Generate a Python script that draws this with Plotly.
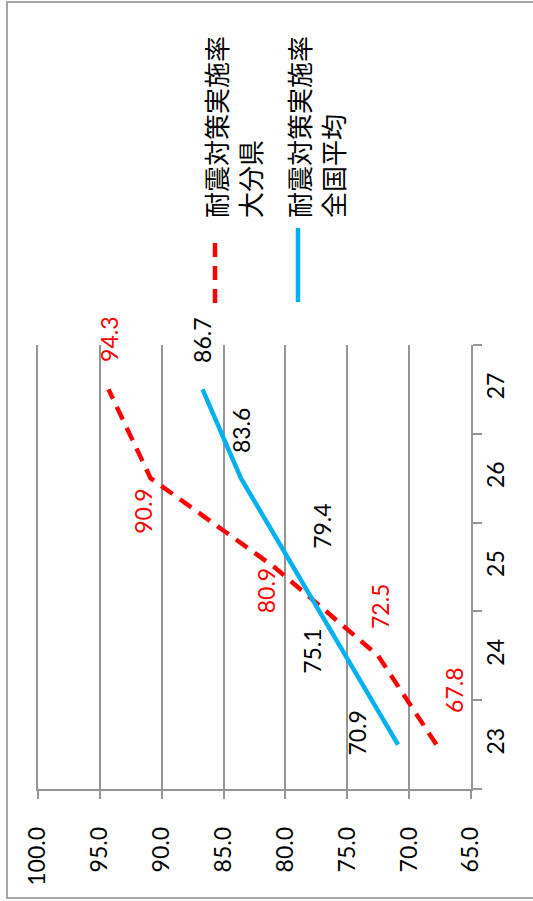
import plotly.graph_objects as go

categories = ["23", "24", "25", "26", "27"]
oita_values = [67.8, 72.5, 80.9, 90.9, 94.3]
national_values = [70.9, 75.1, 79.4, 83.6, 86.7]
series_names = ["耐震対策実施率<br>大分県", "耐震対策実施率<br>全国平均"]

RED = "#FF0000"
BLUE = "#00B0F0"
GRID = "#959595"
NUM_FONT = "Lato"
CJK_FONT = "Noto Sans CJK JP"

fig = go.Figure()
fig.add_trace(go.Scatter(x=oita_values, y=categories, mode="lines",
                         line=dict(color=RED, width=4.5, dash="14px,9px"),
                         showlegend=False, hoverinfo="skip"))
fig.add_trace(go.Scatter(x=national_values, y=categories, mode="lines",
                         line=dict(color=BLUE, width=4.5),
                         showlegend=False, hoverinfo="skip"))

# data label pixel offsets (x, y)
red_off = [(17, 54), (2, 49), (-8, -24), (-7, -33), (1, 50)]
blue_off = [(-41, 11), (-34, 4), (29, 41), (0, 48), (0, 49)]

ann = []
for i, (v, (dx, dy)) in enumerate(zip(oita_values, red_off)):
    ann.append(dict(x=v, y=i, xref="x", yref="y", text=f"{v:.1f}", showarrow=False,
                    textangle=-90, xshift=dx, yshift=dy,
                    font=dict(family=NUM_FONT, size=23, color=RED)))
for i, (v, (dx, dy)) in enumerate(zip(national_values, blue_off)):
    ann.append(dict(x=v, y=i, xref="x", yref="y", text=f"{v:.1f}", showarrow=False,
                    textangle=-90, xshift=dx, yshift=dy,
                    font=dict(family=NUM_FONT, size=23, color="black")))

L, R, T, B = 38, 62, 345, 112
W, H = 533, 901
PW, PH = W - L - R, H - T - B


def px(x):
    return (x - L) / PW


def py(y):
    return (H - B - y) / PH


# legend text
ann.append(dict(x=px(232), y=py(220), xref="paper", yref="paper", text=series_names[0],
                showarrow=False, textangle=-90, align="left", xanchor="center", yanchor="bottom",
                font=dict(family=CJK_FONT, size=26, color="black")))
ann.append(dict(x=px(315), y=py(220), xref="paper", yref="paper", text=series_names[1],
                showarrow=False, textangle=-90, align="left", xanchor="center", yanchor="bottom",
                font=dict(family=CJK_FONT, size=26, color="black")))

shapes = [
    dict(type="line", xref="paper", yref="paper", x0=px(215), x1=px(215), y0=py(303), y1=py(237),
         line=dict(color=RED, width=4.5, dash="14px,9px")),
    dict(type="line", xref="paper", yref="paper", x0=px(298), x1=px(298), y0=py(302), y1=py(228),
         line=dict(color=BLUE, width=4.5)),
    dict(type="rect", xref="paper", yref="paper", x0=px(7), x1=px(545), y0=py(898), y1=py(2),
         line=dict(color="#8C8C8C", width=1.5)),
]

fig.update_layout(
    width=W, height=H,
    margin=dict(l=L, r=R, t=T, b=B),
    paper_bgcolor="white", plot_bgcolor="white",
    annotations=ann, shapes=shapes,
    xaxis=dict(range=[100, 65], tick0=65, dtick=5, tickformat=".1f", tickangle=-90,
               ticks="outside", ticklen=8, tickcolor=GRID, tickwidth=1.5,
               showline=True, linecolor=GRID, linewidth=1.5,
               showgrid=True, gridcolor=GRID, gridwidth=1.5, zeroline=False,
               ticklabelstandoff=19,
               tickfont=dict(family=NUM_FONT, size=23, color="black")),
    yaxis=dict(type="category", categoryorder="array", categoryarray=categories,
               range=[-0.5, 4.5], side="right", tickson="boundaries",
               ticks="outside", ticklen=9, tickcolor=GRID, tickwidth=1.5,
               showline=True, mirror=True, linecolor=GRID, linewidth=1.5, showgrid=False,
               tickangle=-90, ticklabelstandoff=4,
               tickfont=dict(family=NUM_FONT, size=23, color="black")),
)

fig.write_html("out.html")
